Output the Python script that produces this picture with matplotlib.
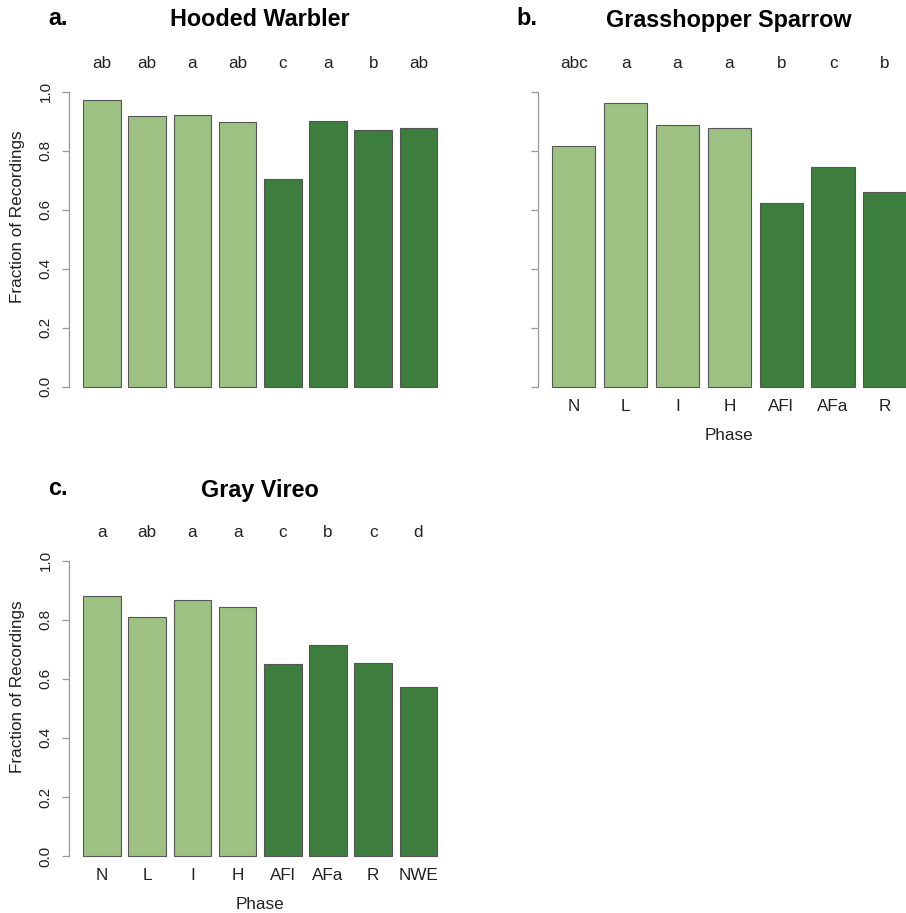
import matplotlib
matplotlib.use("Agg")
import matplotlib.pyplot as plt

plt.rcParams['font.family'] = ['Liberation Sans', 'DejaVu Sans']

# Data
phases_a = ["N", "L", "I", "H", "AFl", "AFa", "R", "NWE"]
values_a = [0.973, 0.917, 0.920, 0.897, 0.705, 0.900, 0.870, 0.877]
letters_a = ["ab", "ab", "a", "ab", "c", "a", "b", "ab"]

phases_b = ["N", "L", "I", "H", "AFl", "AFa", "R"]
values_b = [0.817, 0.961, 0.887, 0.876, 0.624, 0.744, 0.661]
letters_b = ["abc", "a", "a", "a", "b", "c", "b"]

phases_c = ["N", "L", "I", "H", "AFl", "AFa", "R", "NWE"]
values_c = [0.879, 0.809, 0.866, 0.842, 0.649, 0.714, 0.655, 0.573]
letters_c = ["a", "ab", "a", "a", "c", "b", "c", "d"]

yticks = [0.0, 0.2, 0.4, 0.6, 0.8, 1.0]
ytick_labels = ["0.0", "0.2", "0.4", "0.6", "0.8", "1.0"]

LIGHT = "#9dc183"
DARK = "#3d7d3d"
EDGE = "#555555"
AXIS_GREY = "#999999"
PRE_PHASES = {"N", "L", "I", "H"}

W, H = 906, 913
fig = plt.figure(figsize=(W / 100, H / 100), dpi=100)


def fx(x):
    return x / W


def fy(y):
    return 1 - y / H


def panel(left_px, unit_px, y0_px, y1_px, phases, values, letters,
          show_ylabels, show_xlabels, title, tag, title_x, title_y,
          tag_x, letter_y_px):
    n = len(phases)
    # barplot-style geometry: width 1, space 0.2
    centers = [0.7 + 1.2 * i for i in range(n)]
    lo, hi = 0.2, 0.2 + 1.2 * n - 0.2
    ext = 0.04 * (hi - lo)
    xlim = (lo - ext, hi + ext)
    ylim = (-0.04, 1.04)
    ypx = (y0_px - y1_px)
    width_px = (xlim[1] - xlim[0]) * unit_px
    top_px = y1_px - 0.04 * ypx
    bot_px = y0_px + 0.04 * ypx
    ax = fig.add_axes([fx(left_px), fy(bot_px), width_px / W, (bot_px - top_px) / H])
    ax.set_xlim(*xlim)
    ax.set_ylim(*ylim)
    ax.patch.set_alpha(0)
    colors = [LIGHT if p in PRE_PHASES else DARK for p in phases]
    ax.bar(centers, values, width=1.0, color=colors, edgecolor=EDGE,
           linewidth=0.8, zorder=2)
    for s in ["top", "right", "bottom"]:
        ax.spines[s].set_visible(False)
    ax.spines["left"].set_bounds(0, 1)
    ax.spines["left"].set_color(AXIS_GREY)
    ax.spines["left"].set_linewidth(0.9)
    ax.set_yticks(yticks)
    if show_ylabels:
        ax.set_yticklabels(ytick_labels, rotation=90, va="center", fontsize=11)
    else:
        ax.set_yticklabels([])
    ax.tick_params(axis="y", length=5, width=0.9, color=AXIS_GREY, pad=7,
                   labelcolor="#222222")
    ax.set_xticks([])
    # significance letters above each bar
    ly = (y0_px - letter_y_px) / ypx
    for c, t in zip(centers, letters):
        ax.text(c, ly, t, ha="center", va="center", fontsize=12.3,
                color="#222222", clip_on=False)
    if show_xlabels:
        lab_y = -19.4 / ypx
        for c, t in zip(centers, phases):
            ax.text(c, lab_y, t, ha="center", va="center", fontsize=12.3,
                    color="#222222", clip_on=False)
        ax.text((xlim[0] + xlim[1]) / 2, -48.5 / ypx, "Phase", ha="center",
                va="center", fontsize=12.3, color="#222222", clip_on=False)
    fig.text(fx(title_x), fy(title_y), title, ha="center", va="center",
             fontsize=16.8, fontweight="bold")
    fig.text(fx(tag_x), fy(title_y - 1.5), tag, ha="center", va="center",
             fontsize=16.8, fontweight="bold")
    return ax


ax_a = panel(69.1, 37.66, 386.7, 91.7, phases_a, values_a, letters_a,
             True, False, "Hooded Warbler", "a.", 260, 20, 58, 63)
ax_b = panel(538.1, 43.2, 387.3, 91.7, phases_b, values_b, letters_b,
             False, True, "Grasshopper Sparrow", "b.", 729, 20, 527, 63)
ax_c = panel(69.1, 37.66, 856.0, 560.7, phases_c, values_c, letters_c,
             True, True, "Gray Vireo", "c.", 260, 490, 58, 532)

for yc in (217, 687):
    fig.text(fx(18), fy(yc), "Fraction of Recordings", rotation=90,
             ha="center", va="center", fontsize=12.3, color="#222222")

fig.savefig("out.png", dpi=100, facecolor="white")
